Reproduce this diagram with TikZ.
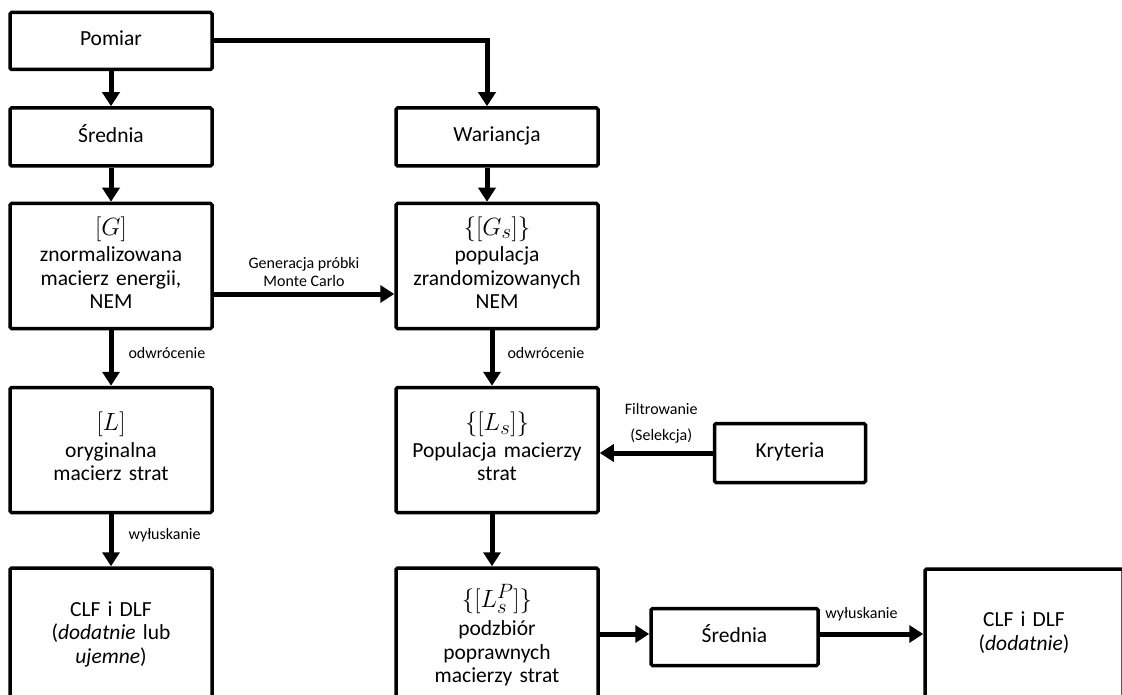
\documentclass[tikz,border=0pt]{standalone}
\usepackage{fontspec}
\setmainfont{Carlito}
\usetikzlibrary{arrows.meta, positioning, calc}

\newcommand{\macierz}[1]{{\fontsize{29}{30}\selectfont$#1$}}

\begin{document}
\begin{tikzpicture}[x=1pt, y=-1pt,
  blok/.style={draw, line width=3.5pt, rounded corners=1.5pt, align=center,
    inner sep=0pt, minimum width=202pt, text width=194pt,
    font=\fontsize{21.5}{23.5}\selectfont,
    execute at begin node=\strut, execute at end node=\strut},
  strzalka/.style={line width=5pt, -{Triangle[length=14pt, width=17pt]}},
  opis/.style={font=\fontsize{16}{18}\selectfont, inner sep=1pt, align=center}]

  \useasboundingbox (0,0) rectangle (1122,695);
  \clip (0,0) rectangle (1122,695);

  % lewa kolumna
  \node[blok, minimum height=57pt] (pomiar) at (111,41) {Pomiar};
  \node[blok, minimum height=58pt] (srednia) at (111,137) {Średnia};
  \node[blok, minimum height=125pt] (G) at (111,266) {\macierz{[G]}\\[3pt]znormalizowana\\macierz energii,\\NEM};
  \node[blok, minimum height=125pt] (L) at (111,450) {\macierz{[L]}\\[3pt]oryginalna\\macierz strat};
  \node[blok, minimum height=134pt] (clfA) at (111,635) {CLF i DLF\\(\textit{dodatnie} lub\\\textit{ujemne})};

  % prawa kolumna
  \node[blok, minimum height=58pt] (wariancja) at (497,137) {Wariancja};
  \node[blok, minimum height=125pt] (Gs) at (497,266) {\macierz{\{[G_s]\}}\\[3pt]populacja\\zrandomizowanych\\NEM};
  \node[blok, minimum height=125pt] (Ls) at (497,450) {\macierz{\{[L_s]\}}\\[3pt]Populacja macierzy\\strat};
  \node[blok, minimum height=138pt] (LsP) at (497,637) {\macierz{\{[L_s^P]\}}\\[5pt]podzbiór\\poprawnych\\macierzy strat};

  % kryteria i usrednianie
  \node[blok, minimum height=59pt, minimum width=151pt, text width=140pt] (kryteria) at (790,453) {Kryteria};
  \node[blok, minimum height=57pt, minimum width=167pt, text width=150pt] (srednia2) at (734.5,637) {Średnia};
  \node[blok, minimum height=130pt, minimum width=198pt, text width=188pt] (clfB) at (1024,634) {CLF i DLF\\(\textit{dodatnie})};

  % strzalki
  \draw[strzalka] (pomiar) -- (srednia);
  \draw[strzalka] (pomiar.east) -| ([xshift=-10pt]wariancja.north);
  \draw[strzalka] (srednia) -- (G);
  \draw[strzalka] ([xshift=-10pt]wariancja.south) -- ([xshift=-10pt]Gs.north);
  \draw[strzalka] ([yshift=-28pt]G.east) -- node[opis, above=4pt] {Generacja próbki\\Monte Carlo} ([yshift=-28pt]Gs.west);
  \draw[strzalka] (G) -- node[opis, right=14pt, yshift=5pt] {odwrócenie} (L);
  \draw[strzalka] ([xshift=-5pt]Gs.south) -- node[opis, right=12pt, yshift=5pt] {odwrócenie} ([xshift=-5pt]Ls.north);
  \draw[strzalka] (L) -- node[opis, right=14pt, yshift=5pt] {wyłuskanie} (clfA);
  \draw[strzalka] ([xshift=-5pt]Ls.south) -- ([xshift=-5pt]LsP.north);
  \draw[strzalka] (kryteria.west) -- node[opis, above=6pt, xshift=5pt] {Filtrowanie\\[8pt](Selekcja)} (kryteria.west -| Ls.east);
  \draw[strzalka] ([yshift=3pt]srednia2.west -| LsP.east) -- ([yshift=3pt]srednia2.west);
  \draw[strzalka] ([yshift=3pt]srednia2.east) -- node[opis, above=9pt, xshift=-10pt] {wyłuskanie} ([yshift=3pt]srednia2.east -| clfB.west);
\end{tikzpicture}
\end{document}
